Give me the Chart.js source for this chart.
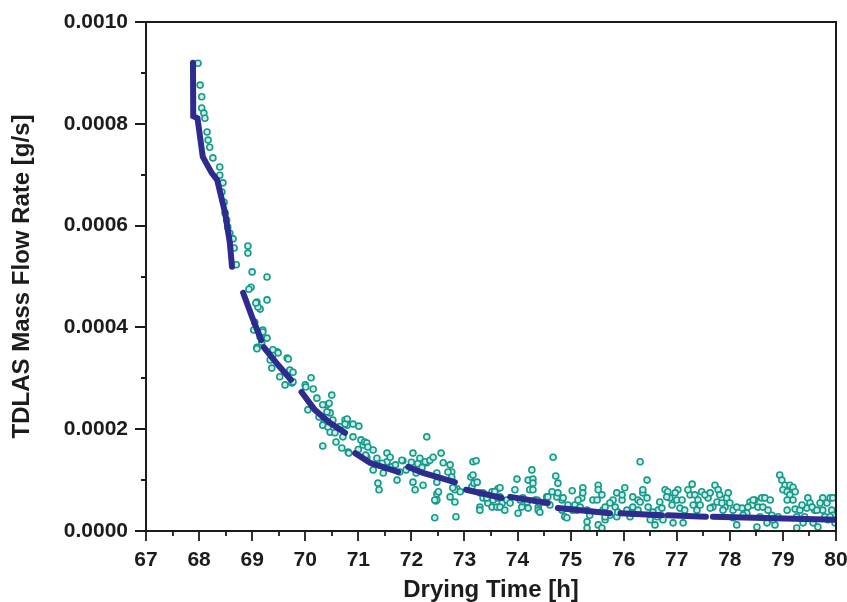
<!DOCTYPE html>
<html>
<head>
<meta charset="utf-8">
<script src="https://cdn.jsdelivr.net/npm/chart.js@4/dist/chart.umd.min.js"></script>
<style>
  html, body { margin: 0; padding: 0; background: #fff; }
  #wrap { width: 847px; height: 602px; }
</style>
</head>
<body>
<div id="wrap"><canvas id="dryingChart" width="847" height="602"></canvas></div>
<script>
// axis ticks
const xTicks = [67, 68, 69, 70, 71, 72, 73, 74, 75, 76, 77, 78, 79, 80];
const yTicks = [0, 0.0002, 0.0004, 0.0006, 0.0008, 0.0010];

// TDLAS measured points [drying time h, mass flow g/s]
const dotPoints = [
  [67.98, 0.000919], [68.02, 0.000876], [68.05, 0.000853], [68.05, 0.000831], [68.09, 0.000821],
  [68.11, 0.000811], [68.15, 0.000784], [68.17, 0.000768], [68.20, 0.000754], [68.26, 0.000733],
  [68.39, 0.000715], [68.39, 0.000699], [68.45, 0.000684], [68.43, 0.000666], [68.47, 0.000646],
  [68.49, 0.000625], [68.52, 0.000611], [68.54, 0.000597], [68.58, 0.000585], [68.64, 0.000574],
  [68.66, 0.000556], [68.70, 0.000523], [68.92, 0.000560], [68.92, 0.000546], [69.00, 0.000509],
  [69.28, 0.000499], [68.98, 0.000479], [68.94, 0.000475], [69.09, 0.000450], [69.28, 0.000454],
  [69.15, 0.000436], [69.11, 0.000440], [69.05, 0.000410], [69.07, 0.000448], [69.03, 0.000395],
  [69.20, 0.000395], [69.20, 0.000391], [69.15, 0.000381], [69.28, 0.000379], [69.18, 0.000371],
  [69.09, 0.000361], [69.09, 0.000358], [69.47, 0.000352], [69.39, 0.000346], [69.39, 0.000356],
  [69.49, 0.000350], [69.66, 0.000340], [69.68, 0.000338], [69.34, 0.000336], [69.37, 0.000320],
  [69.71, 0.000316], [69.52, 0.000303], [69.62, 0.000287], [69.75, 0.000291], [69.77, 0.000312],
  [69.77, 0.000293], [70.00, 0.000287], [70.11, 0.000301], [70.01, 0.000283], [70.15, 0.000279],
  [70.22, 0.000261], [70.50, 0.000267], [70.41, 0.000248], [70.33, 0.000248], [70.45, 0.000251],
  [70.05, 0.000238], [70.47, 0.000232], [70.41, 0.000234], [70.26, 0.000224], [70.35, 0.000212],
  [70.33, 0.000208], [70.52, 0.000218], [70.43, 0.000204], [70.75, 0.000218], [70.79, 0.000220],
  [70.79, 0.000208], [70.75, 0.000210], [71.01, 0.000206], [70.47, 0.000194], [70.56, 0.000193],
  [70.71, 0.000185], [70.58, 0.000175], [70.33, 0.000167], [70.69, 0.000163], [70.81, 0.000155],
  [70.82, 0.000153], [71.05, 0.000179], [71.09, 0.000169], [71.12, 0.000175], [71.16, 0.000173],
  [71.18, 0.000165], [71.28, 0.000159], [71.16, 0.000145], [71.14, 0.000149], [71.54, 0.000153],
  [71.35, 0.000143], [71.54, 0.000136], [71.84, 0.000138], [71.82, 0.000139], [72.03, 0.000153],
  [72.29, 0.000185], [72.16, 0.000143], [72.29, 0.000134], [71.28, 0.000120], [71.47, 0.000114],
  [71.37, 0.000094], [71.39, 0.000081], [71.63, 0.000126], [71.78, 0.000116], [71.73, 0.000100],
  [72.12, 0.000132], [72.26, 0.000136], [72.35, 0.000139], [72.41, 0.000145], [72.09, 0.000114],
  [72.03, 0.000096], [72.07, 0.000081], [72.22, 0.000090], [72.48, 0.000114], [72.48, 0.000073],
  [72.46, 0.000059], [72.44, 0.000026], [72.56, 0.000153], [72.60, 0.000134], [72.73, 0.000130],
  [72.76, 0.000116], [72.48, 0.000061], [72.51, 0.000077], [72.82, 0.000057], [72.86, 0.000083],
  [72.82, 0.000081], [72.92, 0.000077], [72.84, 0.000028], [73.16, 0.000136], [73.22, 0.000138],
  [73.12, 0.000106], [73.14, 0.000087], [73.18, 0.000094], [73.29, 0.000075], [73.35, 0.000065],
  [73.29, 0.000047], [73.29, 0.000041], [73.44, 0.000055], [73.52, 0.000047], [73.54, 0.000061],
  [73.52, 0.000077], [73.63, 0.000083], [73.67, 0.000085], [73.67, 0.000067], [73.61, 0.000047],
  [73.71, 0.000055], [73.99, 0.000102], [73.95, 0.000081], [74.05, 0.000061], [74.08, 0.000047],
  [74.01, 0.000035], [74.27, 0.000120], [74.20, 0.000100], [74.29, 0.000102], [74.29, 0.000094],
  [74.23, 0.000081], [74.33, 0.000061], [74.39, 0.000047], [74.39, 0.000041], [74.42, 0.000037],
  [74.42, 0.000055], [74.55, 0.000067], [74.67, 0.000145], [74.72, 0.000108], [74.76, 0.000094],
  [74.74, 0.000067], [74.65, 0.000077], [74.61, 0.000051], [74.84, 0.000061], [74.84, 0.000041],
  [74.89, 0.000028], [75.03, 0.000079], [75.08, 0.000051], [75.12, 0.000041], [74.93, 0.000026],
  [75.23, 0.000085], [75.21, 0.000065], [75.18, 0.000047], [75.31, 0.000006], [75.31, 0.000018],
  [75.52, 0.000090], [75.52, 0.000081], [75.42, 0.000061], [75.61, 0.000041], [75.52, 0.000012],
  [75.80, 0.000061], [75.74, 0.000055], [75.74, 0.000031], [75.65, 0.000022], [75.65, 0.000028],
  [75.59, 0.000006], [75.87, 0.000075], [75.87, 0.000028], [76.02, 0.000085], [75.97, 0.000061],
  [76.12, 0.000028], [76.31, 0.000136], [76.44, 0.000100], [76.17, 0.000067], [76.27, 0.000061],
  [76.36, 0.000075], [76.36, 0.000081], [76.31, 0.000057], [76.17, 0.000047], [76.44, 0.000065],
  [76.50, 0.000022], [76.59, 0.000012], [76.68, 0.000057], [76.65, 0.000041], [76.74, 0.000022],
  [76.78, 0.000081], [76.83, 0.000077], [76.87, 0.000065], [77.00, 0.000061], [77.02, 0.000081],
  [77.06, 0.000045], [76.93, 0.000016], [77.12, 0.000016], [77.25, 0.000071], [77.29, 0.000092],
  [77.34, 0.000071], [77.40, 0.000061], [77.31, 0.000051], [77.47, 0.000077], [77.59, 0.000065],
  [77.72, 0.000090], [77.78, 0.000081], [77.81, 0.000071], [77.68, 0.000047], [77.63, 0.000045],
  [77.94, 0.000065], [77.91, 0.000047], [78.00, 0.000055], [78.06, 0.000041], [78.13, 0.000012],
  [78.06, 0.000026], [78.23, 0.000045], [78.32, 0.000035], [78.38, 0.000057], [78.42, 0.000051],
  [78.47, 0.000061], [78.53, 0.000047], [78.60, 0.000065], [78.66, 0.000065], [78.57, 0.000028],
  [78.51, 0.000008], [78.70, 0.000016], [78.79, 0.000031], [78.85, 0.000012], [78.94, 0.000110],
  [78.98, 0.000100], [79.04, 0.000090], [79.13, 0.000090], [79.19, 0.000086], [79.00, 0.000081],
  [79.08, 0.000077], [79.23, 0.000077], [79.13, 0.000071], [79.08, 0.000061], [79.19, 0.000061],
  [79.23, 0.000043], [79.08, 0.000041], [79.32, 0.000041], [79.38, 0.000016], [79.26, 0.000006],
  [79.47, 0.000065], [79.51, 0.000055], [79.45, 0.000045], [79.57, 0.000016], [79.66, 0.000008],
  [79.75, 0.000065], [79.83, 0.000055], [79.89, 0.000065], [79.92, 0.000041], [79.94, 0.000031],
  [79.75, 0.000041], [79.79, 0.000028], [79.85, 0.000022], [79.94, 0.000065], [79.60, 0.000041],
  // denser band, 72.4 - 80 h
  [72.69, 0.000116], [72.76, 0.000106], [72.78, 0.000085], [72.73, 0.000067], [72.48, 0.000096],
  [72.44, 0.000061], [73.16, 0.000110], [73.24, 0.000096], [73.35, 0.000075], [73.42, 0.000065],
  [73.57, 0.000077], [73.63, 0.000065], [73.67, 0.000047], [73.76, 0.000041], [73.80, 0.000061],
  [73.86, 0.000055], [74.10, 0.000065], [74.18, 0.000057], [74.20, 0.000045], [74.29, 0.000081],
  [74.37, 0.000061], [74.52, 0.000057], [74.57, 0.000067], [74.76, 0.000075], [74.86, 0.000065],
  [74.95, 0.000051], [75.04, 0.000041], [75.14, 0.000061], [75.23, 0.000075], [75.31, 0.000041],
  [75.36, 0.000031], [75.50, 0.000061], [75.59, 0.000071], [75.65, 0.000047], [75.84, 0.000047],
  [75.89, 0.000037], [75.97, 0.000071], [76.06, 0.000041], [76.17, 0.000035], [76.27, 0.000041],
  [76.46, 0.000047], [76.55, 0.000037], [76.63, 0.000028], [76.72, 0.000045], [76.81, 0.000067],
  [76.91, 0.000051], [76.97, 0.000075], [77.10, 0.000061], [77.15, 0.000041], [77.21, 0.000081],
  [77.38, 0.000041], [77.44, 0.000051], [77.53, 0.000071], [77.63, 0.000075], [77.76, 0.000057],
  [77.85, 0.000055], [77.87, 0.000041], [77.97, 0.000075], [78.13, 0.000047], [78.25, 0.000031],
  [78.34, 0.000047], [78.44, 0.000061], [78.62, 0.000047], [78.72, 0.000041], [78.76, 0.000061],
  [78.81, 0.000022], [78.91, 0.000028], [79.26, 0.000028], [79.36, 0.000051], [79.41, 0.000028],
  [79.55, 0.000047], [79.64, 0.000041], [79.70, 0.000055], [79.89, 0.000028], [79.98, 0.000016],
  // denser band, 70.6 - 72.3 h
  [70.90, 0.000185], [71.00, 0.000160], [71.45, 0.000133], [71.60, 0.000145], [71.90, 0.000120],
  [72.00, 0.000135], [72.20, 0.000125], [71.70, 0.000130], [70.65, 0.000205], [70.90, 0.000210]
];

// model curve, one sub-array per dash segment
const fitSegments = [
  [[67.885, 0.000920], [67.89, 0.000815], [67.97, 0.000811], [68.07, 0.000735], [68.24, 0.000703],
   [68.34, 0.000690], [68.49, 0.000625], [68.58, 0.000566], [68.62, 0.000519]],
  [[68.83, 0.000468], [69.00, 0.000420], [69.17, 0.000375]],
  [[69.22, 0.000361], [69.49, 0.000326], [69.73, 0.000297]],
  [[69.93, 0.000273], [70.18, 0.000238], [70.47, 0.000212], [70.75, 0.000193]],
  [[70.94, 0.000153], [71.22, 0.000134], [71.75, 0.000116]],
  [[71.94, 0.000126], [72.22, 0.000114], [72.82, 0.000096]],
  [[73.03, 0.000081], [73.70, 0.000065]],
  [[73.86, 0.000067], [74.57, 0.000055]],
  [[74.76, 0.000045], [75.74, 0.000035]],
  [[75.94, 0.000035], [76.72, 0.000031]],
  [[76.83, 0.000031], [77.55, 0.000028]],
  [[77.68, 0.000028], [80.00, 0.000022]]
];

const INK = '#1c1c1c';
const FONT = '"Liberation Sans", Arial, sans-serif';

// join segments with a null so the line breaks between them
const fitData = [];
fitSegments.forEach((seg, i) => {
  if (i > 0) fitData.push({ x: (seg[0][0] + fitSegments[i - 1].slice(-1)[0][0]) / 2, y: null });
  seg.forEach(p => fitData.push({ x: p[0], y: p[1] }));
});

// frame + outward major/minor tick marks
const frameTicks = {
  id: 'frameTicks',
  afterDraw(chart) {
    const { ctx, chartArea: a, scales: { x, y } } = chart;
    ctx.save();
    ctx.strokeStyle = INK;
    ctx.lineWidth = 2;
    ctx.strokeRect(a.left, a.top, a.right - a.left, a.bottom - a.top);
    ctx.lineWidth = 1.8;
    ctx.beginPath();
    xTicks.forEach((v, i) => {
      const px = Math.round(x.getPixelForValue(v));
      ctx.moveTo(px, a.bottom); ctx.lineTo(px, a.bottom + 10);
      if (i < xTicks.length - 1) {
        const mx = Math.round(x.getPixelForValue((v + xTicks[i + 1]) / 2));
        ctx.moveTo(mx, a.bottom); ctx.lineTo(mx, a.bottom + 5);
      }
    });
    yTicks.forEach((v, i) => {
      const py = Math.round(y.getPixelForValue(v));
      ctx.moveTo(a.left, py); ctx.lineTo(a.left - 11, py);
      if (i < yTicks.length - 1) {
        const my = Math.round(y.getPixelForValue((v + yTicks[i + 1]) / 2));
        ctx.moveTo(a.left, my); ctx.lineTo(a.left - 5, my);
      }
    });
    ctx.stroke();
    ctx.restore();
  }
};

new Chart(document.getElementById('dryingChart'), {
  type: 'scatter',
  data: {
    datasets: [
      {
        type: 'line',
        label: 'model',
        data: fitData,
        borderColor: '#2e2b8e',
        borderWidth: 6,
        borderCapStyle: 'round',
        pointRadius: 0,
        spanGaps: false,
        tension: 0,
        order: 0
      },
      {
        label: 'TDLAS',
        data: dotPoints.map(p => ({ x: p[0], y: p[1] })),
        pointRadius: 3,
        borderWidth: 1.6,
        borderColor: '#169a8a',
        backgroundColor: '#cdeee8',
        order: 1
      }
    ]
  },
  options: {
    responsive: false,
    animation: false,
    layout: { padding: { top: 22, right: 11, left: 0, bottom: 0 } },
    plugins: { legend: { display: false }, tooltip: { enabled: false } },
    scales: {
      x: {
        type: 'linear',
        min: 67, max: 80,
        afterFit(scale) { scale.height = 71; scale.paddingLeft = 0; scale.paddingRight = 0; },
        afterBuildTicks(scale) { scale.ticks = xTicks.map(v => ({ value: v })); },
        grid: { display: false, drawTicks: false },
        border: { display: false },
        ticks: { color: INK, padding: 17, font: { family: FONT, size: 21, weight: 'bold' } },
        title: {
          display: true, text: 'Drying Time [h]', color: INK,
          font: { family: FONT, size: 24, weight: 'bold', lineHeight: 1 },
          padding: { top: 0, bottom: 0 }
        }
      },
      y: {
        type: 'linear',
        min: 0, max: 0.001,
        afterFit(scale) { scale.width = 146; scale.paddingTop = 0; scale.paddingBottom = 0; },
        afterBuildTicks(scale) { scale.ticks = yTicks.map(v => ({ value: v })); },
        grid: { display: false, drawTicks: false },
        border: { display: false },
        ticks: {
          color: INK, padding: 18,
          font: { family: FONT, size: 21, weight: 'bold' },
          callback: v => v.toFixed(4)
        },
        title: {
          display: true, text: 'TDLAS Mass Flow Rate [g/s]', color: INK,
          font: { family: FONT, size: 24, weight: 'bold', lineHeight: 1 },
          padding: { top: 10, bottom: 0 }
        }
      }
    }
  },
  plugins: [frameTicks]
});
</script>
</body>
</html>
